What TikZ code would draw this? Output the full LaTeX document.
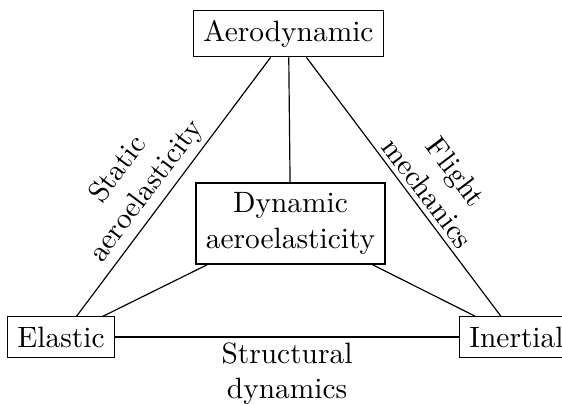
\documentclass[tikz,border=0pt]{standalone}
\begin{document}
\begin{tikzpicture}[x=0.34pt,y=-0.34pt,
  box/.style={draw,align=center},
  lbl/.style={sloped,align=center,inner sep=1.6pt}]
\useasboundingbox (0,0) rectangle (562,403);
\node[box] (aero) at (288.5,33.5) {Aerodynamic};
\node[box] (elastic) at (61,337) {Elastic};
\node[box] (inertial) at (516.5,337) {Inertial};
\node[box] (dyn) at (290.5,223.5) {Dynamic\\aeroelasticity};
\draw (elastic) -- node[lbl,above,pos=0.44] {Static\\aeroelasticity} (aero);
\draw (aero) -- node[lbl,above,pos=0.56] {Flight\\mechanics} (inertial);
\draw (elastic) -- node[midway,below,align=center,inner sep=1.6pt] {Structural\\dynamics} (inertial);
\draw (aero) -- (dyn);
\draw (dyn) -- (elastic);
\draw (dyn) -- (inertial);
\end{tikzpicture}
\end{document}
